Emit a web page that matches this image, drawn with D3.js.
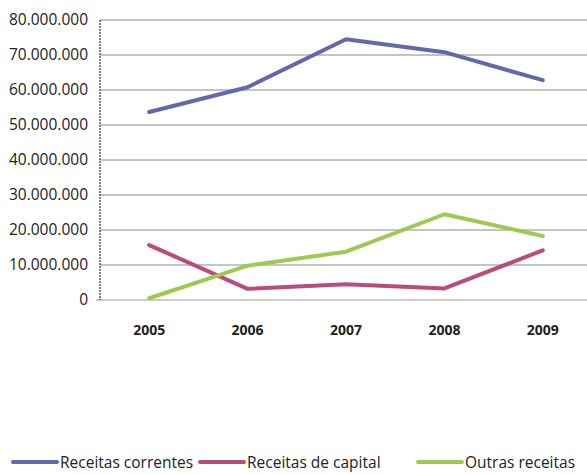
<!DOCTYPE html>
<html><head><meta charset="utf-8">
<script src="https://cdn.jsdelivr.net/npm/d3@7"></script>
<style>body{margin:0;background:#fff}svg{display:block}text{font-family:"Open Sans",sans-serif;fill:#222}</style>
</head><body><svg id="c" width="587" height="474"></svg>
<script>
const years = ["2005","2006","2007","2008","2009"];
const seriesNames = ["Receitas correntes","Receitas de capital","Outras receitas"];
const correntes = [53700000, 60800000, 74500000, 70800000, 62800000];
const capital = [15700000, 3200000, 4500000, 3300000, 14200000];
const outras = [500000, 9800000, 13800000, 24500000, 18300000];
const yTicks = [0,10000000,20000000,30000000,40000000,50000000,60000000,70000000,80000000];
const colors = ["#6268ab","#b84c7c","#a2c94f"];

const svg = d3.select("#c");
const L=100, T=20, B=300, R=592;
const x = d3.scaleBand().domain(years).range([L,R]);
const y = d3.scaleLinear().domain([0,80000000]).range([B,T]);
const fmt = v => d3.format(",")(v).replace(/,/g,".");

// gridlines
svg.append("g").selectAll("line").data(yTicks).join("line")
  .attr("x1", d => d===0 ? L-4 : L).attr("x2", R)
  .attr("y1", d=>y(d)).attr("y2", d=>y(d))
  .attr("stroke", d => d===0 ? "#999" : "#8a8a8a").attr("stroke-width",1);
// y axis line
svg.append("line").attr("x1",L).attr("x2",L).attr("y1",T).attr("y2",B)
  .attr("stroke","#555").attr("stroke-width",1.5).attr("stroke-dasharray","2,1");
// y labels
svg.append("g").selectAll("text").data(yTicks).join("text")
  .attr("x",88).attr("y",d=>y(d)).attr("dy","0.35em").attr("text-anchor","end")
  .style("font-size","15.5px").text(fmt);
// x labels
svg.append("g").selectAll("text").data(years).join("text")
  .attr("x",d=>x(d)+x.bandwidth()/2).attr("y",335).attr("text-anchor","middle")
  .style("font-size","14px").style("font-weight","bold").text(d=>d);

const allSeries = [correntes, capital, outras];
const line = d3.line().x((d,i)=>x(years[i])+x.bandwidth()/2).y(d=>y(d));
allSeries.forEach((s,k)=>{
  svg.append("path").datum(s).attr("d",line).attr("fill","none")
    .attr("stroke",colors[k]).attr("stroke-width",4).attr("stroke-linejoin","round").attr("stroke-linecap","round");
});

// legend
const legX = [13, 200, 418];
const lg = svg.append("g").selectAll("g").data(seriesNames).join("g")
  .attr("transform",(d,i)=>`translate(${legX[i]},462)`);
lg.append("line").attr("x1",0).attr("x2",44).attr("y1",0).attr("y2",0)
  .attr("stroke",(d,i)=>colors[i]).attr("stroke-width",4).attr("stroke-linecap","round");
lg.append("text").attr("x",47).attr("y",0).attr("dy","0.4em").style("font-size","15.5px").text(d=>d);
</script></body></html>
